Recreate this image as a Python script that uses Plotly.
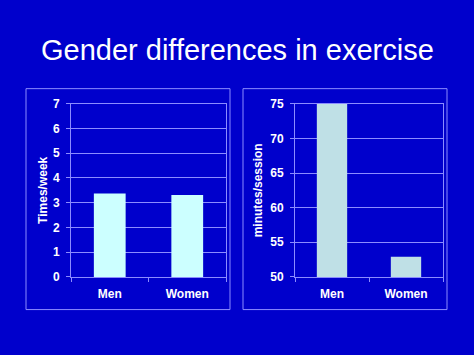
import plotly.graph_objects as go

categories = ["Men", "Women"]
times_per_week = [3.37, 3.31]
minutes_per_session = [75.0, 52.9]
left_ticks = [0, 1, 2, 3, 4, 5, 6, 7]
right_ticks = [50, 55, 60, 65, 70, 75]

W, H = 474, 355
BG = "#0000CC"
GRID = "#8C8CFF"
FONT = "Liberation Sans, Arial, sans-serif"

def px(x):
    return x / W

def py(y):
    return 1 - y / H

fig = go.Figure()
fig.add_trace(go.Bar(x=categories, y=times_per_week, marker=dict(color="#CCFFFF", line=dict(width=0)),
                     xaxis="x", yaxis="y", showlegend=False))
fig.add_trace(go.Bar(x=categories, y=minutes_per_session, marker=dict(color="#BFE0E6", line=dict(width=0)),
                     xaxis="x2", yaxis="y2", showlegend=False))

tickfont = dict(family=FONT, size=12, color="white", weight="bold")
titlefont = dict(family=FONT, size=12, color="white", weight="bold")
common_x = dict(showgrid=False, showline=True, linecolor=GRID, linewidth=1, mirror=True,
                ticks="outside", tickson="boundaries", ticklen=4, tickcolor=GRID,
                tickfont=tickfont, ticklabelstandoff=6, fixedrange=True)
common_y = dict(showgrid=True, gridcolor=GRID, gridwidth=1, showline=True, linecolor=GRID,
                linewidth=1, mirror=True, ticks="outside", ticklen=4, tickcolor=GRID,
                tickfont=tickfont, ticklabelstandoff=4, zeroline=False)

fig.update_layout(
    width=W, height=H,
    margin=dict(l=0, r=0, t=0, b=0),
    paper_bgcolor=BG, plot_bgcolor=BG,
    bargap=0.59,
    xaxis=dict(domain=[px(71), px(226)], anchor="y", **common_x),
    yaxis=dict(domain=[py(281), py(100.7)], anchor="x", range=[0, 7], tickvals=left_ticks,
               title=dict(text="Times/week", font=titlefont, standoff=2),
               **common_y),
    xaxis2=dict(domain=[px(295), px(443)], anchor="y2", **common_x),
    yaxis2=dict(domain=[py(281), py(100.7)], anchor="x2", range=[50, 75], tickvals=right_ticks,
                title=dict(text="minutes/session", font=titlefont, standoff=5),
                **common_y),
    shapes=[
        dict(type="rect", xref="paper", yref="paper", x0=px(26), x1=px(230), y0=py(315), y1=py(85),
             line=dict(color="#8C8CFF", width=1)),
        dict(type="rect", xref="paper", yref="paper", x0=px(243), x1=px(447), y0=py(315), y1=py(85),
             line=dict(color="#8C8CFF", width=1)),
    ],
    annotations=[
        dict(text="Gender differences in exercise", xref="paper", yref="paper", x=0.5, y=py(45),
             xanchor="center", yanchor="middle", showarrow=False,
             font=dict(family=FONT, size=29, color="white")),
    ],
)

fig.write_html("out.html", config={"displayModeBar": False},
               post_script="document.body.style.margin='0';document.body.style.background='#0000CC';")
